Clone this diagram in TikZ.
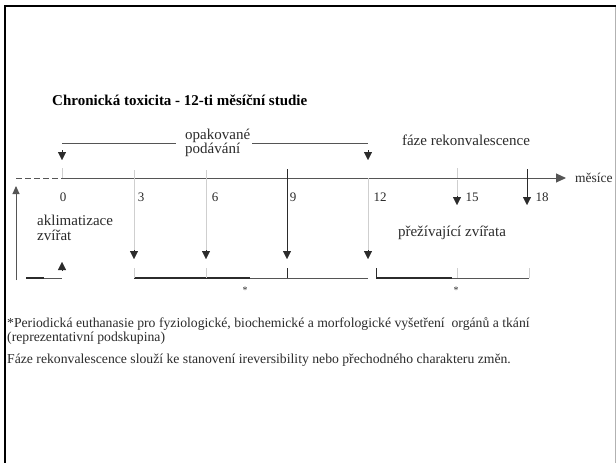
\documentclass[tikz,border=0pt]{standalone}
\usepackage{fontspec}
\setmainfont{Liberation Serif}
\usetikzlibrary{arrows.meta,calc}
\definecolor{ink}{HTML}{2B2B2B}
\definecolor{faint}{HTML}{CFCFCF}
\definecolor{mid}{HTML}{555555}
\begin{document}
\begin{tikzpicture}[x=1pt,y=-1pt,
  txt/.style={inner sep=0pt, text=ink, font=\fontsize{15}{14.5}\selectfont},
  num/.style={inner sep=0pt, text=ink, anchor=center, font=\fontsize{13}{14}\selectfont},
  note/.style={inner sep=0pt, text=ink, anchor=west, font=\fontsize{13.7}{14}\selectfont},
  head/.style={inner sep=0pt, anchor=west, font=\bfseries\fontsize{15}{16}\selectfont},
  tip/.style={-{Triangle[width=8pt,length=8pt]}, ink, line width=0.4pt},
  guide/.style={faint, line width=0.8pt},
  rail/.style={mid, line width=0.9pt},
  heavy/.style={ink, line width=1.6pt}]
\useasboundingbox (0,0) rectangle (616,463);
\fill[white] (0,0) rectangle (616,463);

% title
\node[head] (title) at (52,100) {Chronická toxicita - 12-ti měsíční studie};

% month positions on the time axis
\foreach \n/\x in {m0/62, m3/134, m6/206, m9/287, m12/368, m15/457, m18/527}
  \coordinate (\n) at (\x,178);

% time axis
\coordinate (axstart) at (16,178);
\coordinate (axend) at (566,178);
\draw[mid, line width=1pt, dashed, dash pattern=on 6pt off 3pt] (axstart) -- (m0);
\draw[mid, line width=1pt, -{Triangle[width=9pt,length=10pt]}] (m0) -- (axend);
\node[inner sep=0pt, text=ink, anchor=west, font=\fontsize{13.5}{14}\selectfont] (unit) at (575,178) {měsíce};

% repeated dosing span
\node[txt, align=left, anchor=west] (dose) at (185,143) {opakované\\podávání};
\coordinate (dL) at (62,143);
\coordinate (dR) at (368,143);
\draw[rail] (dL) -- (176,143);
\draw[rail] (252,143) -- (dR);
\coordinate (a0t) at (62,150);
\coordinate (a0b) at (62,160);
\draw[tip] (a0t) -- (a0b);
\coordinate (a12t) at (368,150);
\coordinate (a12b) at (368,160);
\draw[tip] (a12t) -- (a12b);

\node[txt] (recov) at (466,140) {fáze rekonvalescence};

% tick labels
\node[num] (l0) at (63,197) {0};
\node[num] (l3) at (141,197) {3};
\node[num] (l6) at (215,197) {6};
\node[num] (l9) at (293,197) {9};
\node[num] (l12) at (380,197) {12};
\node[num] (l15) at (472,197) {15};
\node[num] (l18) at (542,197) {18};

% small ticks above the axis
\draw[guide] (62,168) -- (m0);
\draw[guide] (457,168) -- (m15);

% sacrifice arrows during dosing
\coordinate (s3) at (134,259);
\coordinate (s6) at (206,259);
\coordinate (s9) at (287,259);
\coordinate (s12) at (368,259);
\draw[guide] (134,170) -- (134,250);
\draw[guide] (206,170) -- (206,250);
\draw[guide] (368,178) -- (368,250);
\draw[ink, line width=0.9pt] (287,169) -- (287,250);
\foreach \c in {s3,s6,s9,s12} \draw[tip] ($(\c)+(0,-9)$) -- (\c);

% recovery arrows
\coordinate (r15) at (457,205);
\coordinate (r18) at (527,205);
\draw[guide] (457,180) -- (457,196);
\draw[tip] (457,196) -- (r15);
\draw[ink, line width=0.9pt] (527,169) -- (527,196);
\draw[tip] (527,196) -- (r18);

% acclimatisation
\node[txt, align=left, anchor=west] (acc) at (37,228) {aklimatizace\\zvířat};
\coordinate (vb) at (16,280);
\coordinate (vt) at (16,186);
\draw[mid, line width=0.9pt, -{Triangle[width=7pt,length=8pt]}] (vb) -- (vt);
\coordinate (accL) at (26,278);
\coordinate (accR) at (62,278);
\draw[rail] (accL) -- (accR);
\draw[heavy] (accL) -- (44,278);
\coordinate (up0) at (62,262);
\draw[tip] (62,271) -- (up0);

% first group bracket
\coordinate (bA) at (134,278);
\coordinate (bB) at (368,278);
\draw[rail] (bA) -- (bB);
\draw[heavy] (bA) -- (250,278);
\draw[guide] (134,268) -- (bA);
\draw[guide] (206,268) -- (206,278);
\draw[ink, line width=0.9pt] (287,268) -- (287,278);
\node[inner sep=0pt, text=ink, font=\fontsize{10}{10}\selectfont] (star1) at (245,290) {*};

% surviving animals bracket
\node[txt] (surv) at (452,233) {přežívající zvířata};
\coordinate (cA) at (376,278);
\coordinate (cB) at (529,278);
\draw[rail] (cA) -- (cB);
\draw[heavy] (cA) -- (452,278);
\draw[ink, line width=0.9pt] (376,268) -- (cA);
\draw[guide] (457,268) -- (457,278);
\draw[guide] (529,268) -- (cB);
\node[inner sep=0pt, text=ink, font=\fontsize{10}{10}\selectfont] (star2) at (456,290) {*};

% notes
\node[note] (n1) at (7,324) {*Periodická euthanasie pro fyziologické, biochemické a morfologické vyšetření\ \ orgánů a tkání};
\node[note] (n2) at (7,338) {(reprezentativní podskupina)};
\node[note] (n3) at (7,360) {Fáze rekonvalescence slouží ke stanovení ireversibility nebo přechodného charakteru změn.};

% frame, drawn last so it sits over any text reaching the edge
\draw[black, line width=2.5pt] (4,6) -- (616,6);
\draw[black, line width=2.5pt] (5,5) -- (5,463);
\draw[gray!60, line width=1pt] (615,7) -- (615,463);
\end{tikzpicture}
\end{document}
